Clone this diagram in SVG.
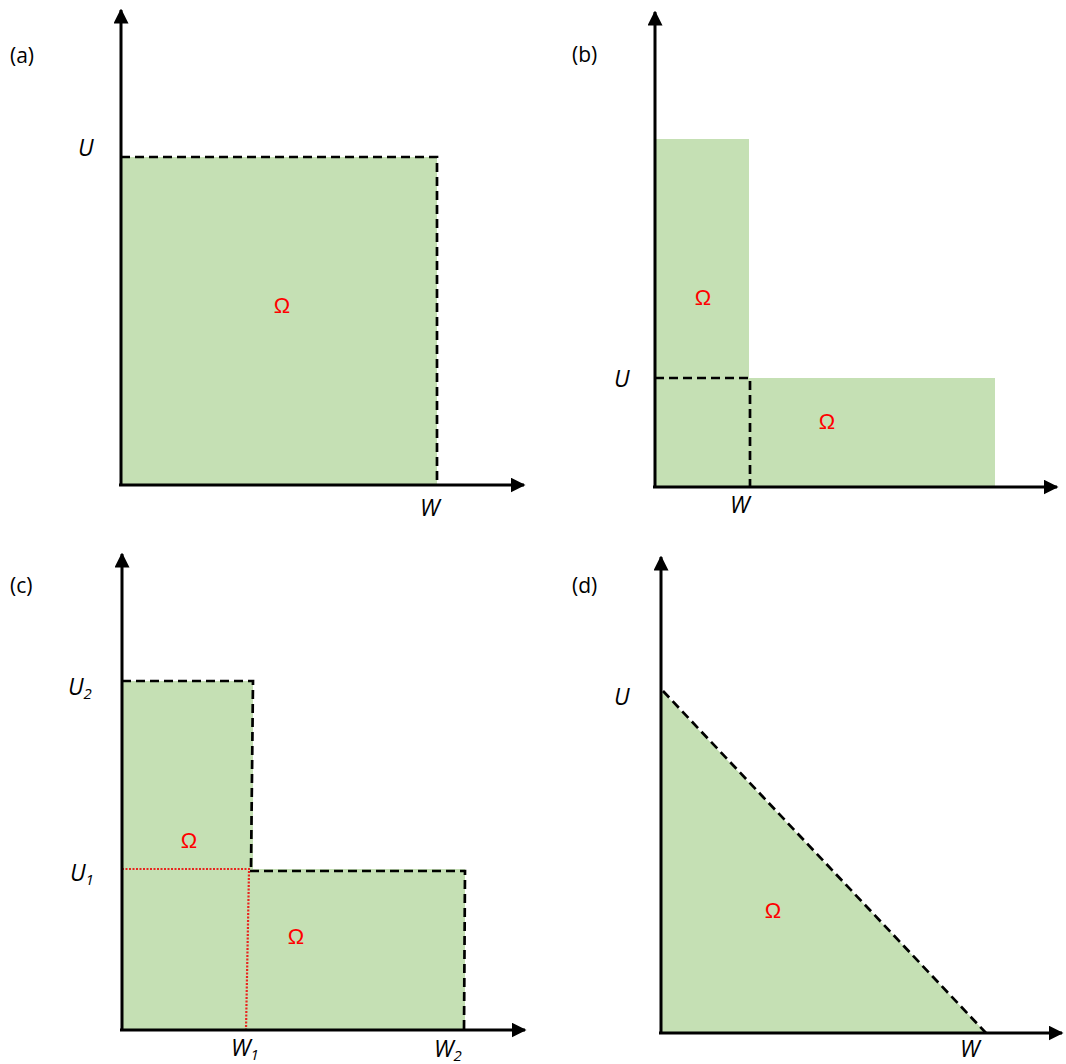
<svg xmlns="http://www.w3.org/2000/svg" width="1066" height="1064" viewBox="0 0 1066 1064">
<defs>
<marker id="arr" viewBox="0 0 10 10" refX="9" refY="5" markerWidth="5" markerHeight="5" orient="auto" markerUnits="strokeWidth">
<path d="M0,0 L10,5 L0,10 z" fill="#000"/>
</marker>
<style>
.region{fill:#c5e0b4;stroke:none}
.axis{stroke:#000;stroke-width:3;fill:none;marker-end:url(#arr)}
.dash{stroke:#000;stroke-width:2.7;stroke-dasharray:9,5;fill:none}
.dot{stroke:#e8251e;stroke-width:2.2;stroke-dasharray:2,1.5;fill:none}
.lbl{font-family:"Open Sans","Liberation Sans",sans-serif;font-size:21px;fill:#000}
.var{font-family:"Open Sans","Liberation Sans",sans-serif;font-style:italic;font-size:23px;fill:#000}
.sub{font-size:15px}
.om{font-family:"Liberation Sans",sans-serif;font-size:22px;fill:#ff0000;text-anchor:middle}
</style>
</defs>
<rect width="1066" height="1064" fill="#fff"/>

<g id="panel-a">
<rect class="region" x="121" y="157" width="316" height="328"/>
<text class="lbl" x="10" y="63">(a)</text>
<text class="var" x="78" y="156">U</text>
<text class="var" x="420" y="516">W</text>
<text class="om" x="282" y="313">Ω</text>
</g>

<g id="panel-b">
<rect class="region" x="655" y="139" width="94" height="348"/>
<rect class="region" x="655" y="378" width="340" height="109"/>
<text class="lbl" x="572" y="62">(b)</text>
<text class="var" x="614" y="387">U</text>
<text class="var" x="730" y="513">W</text>
<text class="om" x="703" y="305">Ω</text>
<text class="om" x="827" y="429">Ω</text>
</g>

<g id="panel-c">
<rect class="region" x="122" y="681" width="131" height="190"/>
<rect class="region" x="122" y="869" width="343" height="161"/>
<text class="lbl" x="10" y="593">(c)</text>
<text class="var" x="68" y="695">U<tspan class="sub" dy="4">2</tspan></text>
<text class="var" x="70" y="881">U<tspan class="sub" dy="4">1</tspan></text>
<text class="var" x="231" y="1056">W<tspan class="sub" dy="4">1</tspan></text>
<text class="var" x="434" y="1057">W<tspan class="sub" dy="4">2</tspan></text>
<text class="om" x="189" y="848">Ω</text>
<text class="om" x="296" y="944">Ω</text>
</g>

<g id="panel-d">
<polygon class="region" points="661,690 986,1033 661,1033"/>
<text class="lbl" x="572" y="593">(d)</text>
<text class="var" x="614" y="705">U</text>
<text class="var" x="960" y="1057">W</text>
<text class="om" x="773" y="918">Ω</text>
</g>

<g id="connectors">
<path class="dash" d="M121,157 H437 V485"/>
<path class="axis" d="M121,486 V10"/>
<path class="axis" d="M119,485 H524"/>
<path class="dash" d="M655,378 H750 V487"/>
<path class="axis" d="M655,488 V12"/>
<path class="axis" d="M653,487 H1057"/>
<path class="dash" d="M122,681 H253 L251,869"/>
<path class="dash" d="M250,871 H465 L464,1030"/>
<path class="dot" d="M122,869 H250"/>
<path class="dot" d="M249,871 L246,1030"/>
<path class="axis" d="M122,1031 V554"/>
<path class="axis" d="M120,1030 H525"/>
<path class="dash" d="M663,691 L986,1033"/>
<path class="axis" d="M661,1034 V557"/>
<path class="axis" d="M659,1033 H1062"/>
</g>
</svg>
